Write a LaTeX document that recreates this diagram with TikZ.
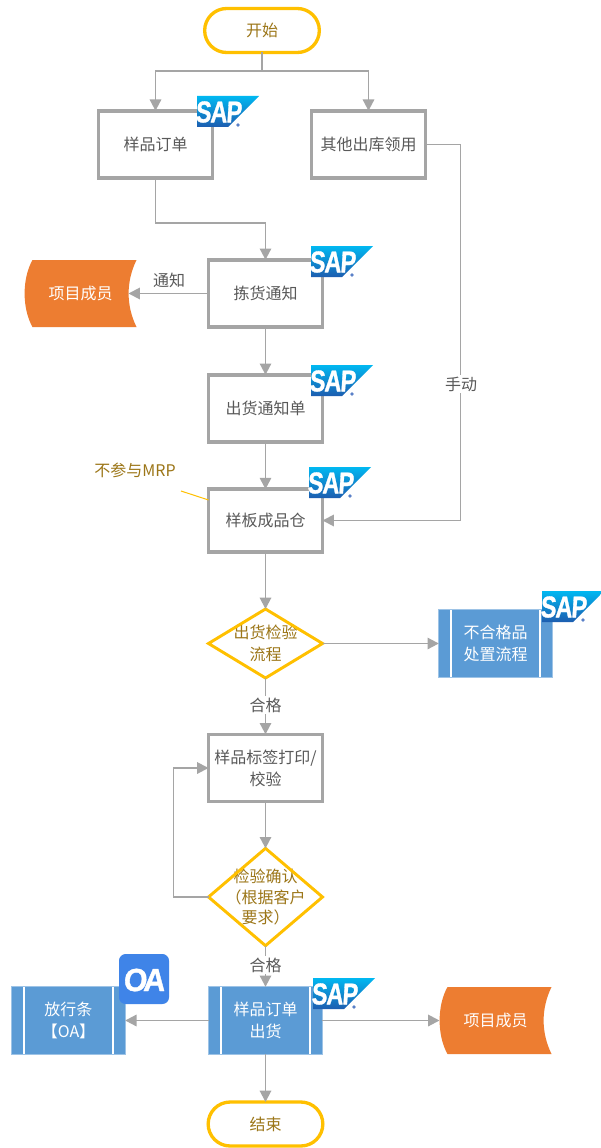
\documentclass[tikz,border=0pt]{standalone}
\usepackage{graphicx}
\usepackage{fontspec}
\setmainfont{Noto Sans CJK SC}
\newfontfamily\logofont[BoldFeatures={FakeBold=1.2,FakeSlant=0.08}]{Liberation Sans}
\usetikzlibrary{arrows.meta,shapes.misc,calc}
\definecolor{linegray}{HTML}{A5A5A5}
\definecolor{txtgray}{HTML}{595959}
\definecolor{gold}{HTML}{FFC000}
\definecolor{txtgold}{HTML}{9C7618}
\definecolor{procblue}{HTML}{5B9BD5}
\definecolor{procedge}{HTML}{9DC3E6}
\definecolor{docorange}{HTML}{ED7D31}
\definecolor{oablue}{HTML}{3F84E8}
\definecolor{saptop}{HTML}{00B8F1}
\definecolor{sapmid}{HTML}{1090DA}
\definecolor{sapbot}{HTML}{1D5DB0}
\definecolor{sapdot}{HTML}{5A80C8}
\tikzset{
 x=0.75pt,y=-0.75pt,
 every node/.style={font=\fontsize{12}{16.5}\selectfont,align=center,inner sep=0pt,outer sep=0pt},
 terminal/.style={rounded rectangle,draw=gold,line width=2.5pt,fill=white,text=txtgold,minimum width=86pt,minimum height=33pt},
 taskbox/.style={rectangle,draw=linegray,line width=2.6pt,fill=white,text=txtgray,minimum width=85.5pt,minimum height=50.5pt},
 decisionbox/.style={rectangle,text=txtgold,minimum width=85.5pt},
 dialine/.style={draw=gold,line width=2.2pt,line join=miter},
 subproc/.style={rectangle,draw=procedge,line width=0.6pt,fill=procblue,text=white,minimum width=85pt,minimum height=50.5pt,
   path picture={\draw[white,line width=1pt]
     ([xshift=9.2pt]path picture bounding box.north west)--([xshift=9.2pt]path picture bounding box.south west)
     ([xshift=-9.2pt]path picture bounding box.north east)--([xshift=-9.2pt]path picture bounding box.south east);}},
 docbox/.style={rectangle,text=white,minimum width=84pt,minimum height=50pt},
 flow/.style={draw=linegray,line width=1.45pt,-{Triangle[length=8.5pt,width=8.5pt]}},
 plainflow/.style={draw=linegray,line width=1.45pt},
 flowlabel/.style={fill=white,text=txtgray,inner sep=1.5pt},
}
\newcommand{\saplogo}[3]{%
 \begin{scope}[shift={(#2,#3)}]
  \shade[top color=saptop,middle color=sapmid,bottom color=sapbot] (0,0)--(62,0)--(31,31)--(0,31)--cycle;
  \fill[sapdot] (41,29) circle[radius=1.8];
  \node[text=white,font=\logofont\bfseries\fontsize{22.5}{22.5}\selectfont] (#1) at (21.5,16) {\scalebox{.78}[1]{S\kern-.8ptA\kern-1ptP}};
 \end{scope}}
\newcommand{\orangedoc}[4]{%
 \begin{scope}[shift={(#2,#3)}]
  \fill[docorange] (-48,-33.5)--(56,-33.5) .. controls (45.5,-12) and (45.5,12) .. (56,33.5)--(-48,33.5) .. controls (-58.5,15) and (-58.5,-15) .. (-48,-33.5)--cycle;
 \end{scope}
 \node[docbox] (#1) at (#2,#3) {#4};}
\begin{document}
\begin{tikzpicture}
\useasboundingbox[fill=white] (0,0) rectangle (600,1148);
% nodes
\node[terminal] (start) at (262,30.5) {开始};
\node[taskbox] (order) at (155.5,144.5) {样品订单};
\node[taskbox] (other) at (368.5,144.5) {其他出库领用};
\node[taskbox] (pick) at (265.5,293.5) {拣货通知};
\node[taskbox] (ship) at (265.5,408.5) {出货通知单};
\node[taskbox,minimum height=47pt] (wh) at (265.5,520.5) {样板成品仓};
\node[decisionbox,minimum height=51.75pt] (chk) at (265.5,643.5) {出货检验\\流程};
\draw[dialine] (chk.north)--(chk.east)--(chk.south)--(chk.west)--cycle;
\node[subproc] (ng) at (495.5,643.5) {不合格品\\处置流程};
\node[taskbox] (label) at (265.5,768) {样品标签打印/\\校验};
\node[decisionbox,minimum height=73pt,font=\fontsize{12}{15.5}\selectfont] (conf) at (265.5,897) {检验确认\\（根据客户\\要求）};
\draw[dialine] (conf.north)--(conf.east)--(conf.south)--(conf.west)--cycle;
\node[subproc] (rel) at (68.5,1020.5) {放行条\\【OA】};
\node[subproc] (out) at (265.5,1020.5) {样品订单\\出货};
\node[terminal,minimum height=33pt] (end) at (265.5,1124) {结束};
\orangedoc{memberA}{80.5}{293.5}{项目成员}
\orangedoc{memberB}{495.5}{1020.5}{项目成员}
\coordinate (memberAtip) at ($(memberA.east)+(-8,0)$);
\node[text=txtgold] (mrp) at (135,470) {不参与MRP};
\coordinate (mrpend) at (181,491);
\coordinate (forkc) at (262,71);
% connectors
\draw[plainflow] (start.south) -- (forkc);
\draw[flow] (forkc) -| (order.north);
\draw[flow] (forkc) -| (other.north);
\draw[flow] (order.south) -- ++(0,45) -| (pick.north);
\draw[flow] (pick.west) -- (memberAtip);
\node[text=txtgray] (tz) at (169,280) {通知};
\draw[flow] (pick.south) -- (ship.north);
\draw[flow] (ship.south) -- (wh.north);
\draw[flow] (wh.south) -- (chk.north);
\draw[flow] (other.east) -- ++(35,0) |- (wh.east);
\node[flowlabel] (manual) at (461,384) {手动};
\draw[flow] (chk.east) -- (ng.west);
\draw[flow] (chk.south) -- (label.north);
\node[flowlabel] (ok1) at (265.5,705) {合格};
\draw[flow] (label.south) -- (conf.north);
\draw[flow] (conf.west) -- ++(-35,0) |- (label.west);
\draw[flow] (conf.south) -- (out.north);
\node[flowlabel] (ok2) at (265.5,965) {合格};
\draw[flow] (out.west) -- (rel.east);
\draw[flow] (out.east) -- (memberB.west);
\draw[flow] (out.south) -- (end.north);
\draw[draw=gold,line width=0.75pt] (mrpend) -- (wh.north west |- 0,500);
% logos
\saplogo{sapA}{197}{96}
\saplogo{sapB}{311}{246}
\saplogo{sapC}{311}{365}
\saplogo{sapD}{309}{467}
\saplogo{sapE}{542}{591}
\saplogo{sapF}{313}{978}
\fill[oablue,rounded corners=5pt] (119,954) rectangle (169,1004);
\node[text=white,font=\logofont\bfseries\fontsize{24}{24}\selectfont] (oa) at (144,980) {\scalebox{.95}[1]{O\kern-3ptA}};
\end{tikzpicture}
\end{document}
